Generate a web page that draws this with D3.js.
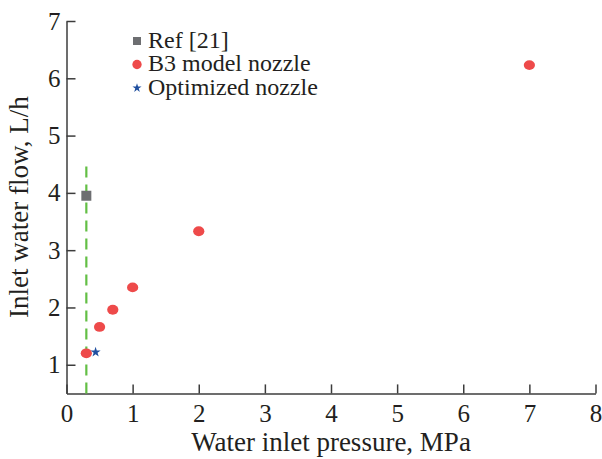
<!DOCTYPE html>
<html>
<head>
<meta charset="utf-8">
<script src="https://cdn.jsdelivr.net/npm/d3@7"></script>
<style>
  body { margin: 0; background: #fff; }
  svg text { font-family: "Liberation Serif", "Times New Roman", serif; fill: #231f20; }
</style>
</head>
<body>
<div id="chart"></div>
<script>
// Data
var refPressure = [0.3];
var refFlow = [3.95];
var b3Pressure = [0.3, 0.5, 0.7, 1.0, 2.0, 7.0];
var b3Flow = [1.2, 1.66, 1.96, 2.35, 3.33, 6.23];
var optPressure = [0.44];
var optFlow = [1.22];
var limitPressure = 0.3;
var limitRange = [0.5, 4.5];
var xTicks = [0, 1, 2, 3, 4, 5, 6, 7, 8];
var yTicks = [1, 2, 3, 4, 5, 6, 7];
var legendLabels = ["Ref [21]", "B3 model nozzle", "Optimized nozzle"];

var W = 602, H = 459;
var margin = { top: 21, right: 6.5, bottom: 65.6, left: 66.5 };
var width = W - margin.left - margin.right,
    height = H - margin.top - margin.bottom;

var svg = d3.select("#chart").append("svg")
    .attr("width", W)
    .attr("height", H);

var g = svg.append("g")
    .attr("transform", "translate(" + margin.left + "," + margin.top + ")");

// Scales
var x = d3.scaleLinear().domain([0, 8]).range([0, width]);
var y = d3.scaleLinear().domain([0.5, 7]).range([height, 0]);

// Axes (ticks point inward)
var xAxis = d3.axisBottom(x).tickValues(xTicks).tickFormat(d3.format("d"))
    .tickSize(-9).tickSizeOuter(0).tickPadding(11);
var yAxis = d3.axisLeft(y).tickValues(yTicks).tickFormat(d3.format("d"))
    .tickSize(-9).tickSizeOuter(0).tickPadding(6);

var xg = g.append("g")
    .attr("transform", "translate(0," + height + ")")
    .call(xAxis);
var yg = g.append("g").call(yAxis);

[xg, yg].forEach(function(a) {
    a.attr("font-family", null).attr("font-size", null);
    a.selectAll("path, line").attr("stroke", "#3c3c3c").attr("stroke-width", 1.5);
    a.selectAll("text")
        .style("font-family", "'Liberation Serif', 'Times New Roman', serif")
        .style("font-size", "25px")
        .attr("fill", "#231f20");
});

// Axis titles
svg.append("text")
    .attr("x", margin.left + width / 2)
    .attr("y", 450.5)
    .attr("text-anchor", "middle")
    .style("font-size", "27px")
    .text("Water inlet pressure, MPa");

svg.append("text")
    .attr("transform", "translate(28," + (margin.top + height / 2) + ") rotate(-90)")
    .attr("text-anchor", "middle")
    .style("font-size", "27px")
    .text("Inlet water flow, L/h");

// Dashed vertical line
g.append("line")
    .attr("x1", x(limitPressure)).attr("x2", x(limitPressure))
    .attr("y1", y(limitRange[0])).attr("y2", y(limitRange[1]))
    .attr("stroke", "#63bf45")
    .attr("stroke-width", 2.2)
    .attr("stroke-dasharray", "11,7");

// Ref [21]
g.selectAll(".ref")
    .data(refPressure)
    .enter().append("path")
    .attr("class", "ref")
    .attr("d", d3.symbol().type(d3.symbolSquare).size(100))
    .attr("transform", function(d, i) { return "translate(" + x(d) + "," + y(refFlow[i]) + ")"; })
    .attr("fill", "#6d6e71");

// B3 model nozzle
g.selectAll(".b3")
    .data(b3Pressure)
    .enter().append("ellipse")
    .attr("class", "b3")
    .attr("cx", function(d) { return x(d); })
    .attr("cy", function(d, i) { return y(b3Flow[i]); })
    .attr("rx", 5.6)
    .attr("ry", 4.9)
    .attr("fill", "#ee4a4a");

// Optimized nozzle
g.selectAll(".opt")
    .data(optPressure)
    .enter().append("path")
    .attr("class", "opt")
    .attr("d", d3.symbol().type(d3.symbolStar).size(32))
    .attr("transform", function(d, i) { return "translate(" + x(d) + "," + y(optFlow[i]) + ")"; })
    .attr("fill", "#1f4f9f");

// Legend
var legend = svg.append("g").attr("transform", "translate(137,41)");
var rowH = 23.5;
var markers = [
    d3.symbol().type(d3.symbolSquare).size(64)(),
    d3.symbol().type(d3.symbolCircle).size(68)(),
    d3.symbol().type(d3.symbolStar).size(26)()
];
var markerColors = ["#6d6e71", "#ee4a4a", "#1f4f9f"];

var rows = legend.selectAll(".leg")
    .data(legendLabels)
    .enter().append("g")
    .attr("class", "leg")
    .attr("transform", function(d, i) { return "translate(0," + (i * rowH) + ")"; });

rows.append("path")
    .attr("d", function(d, i) { return markers[i]; })
    .attr("fill", function(d, i) { return markerColors[i]; });

rows.append("text")
    .attr("x", 11)
    .attr("y", 6.5)
    .style("font-size", "24px")
    .text(function(d) { return d; });
</script>
</body>
</html>
